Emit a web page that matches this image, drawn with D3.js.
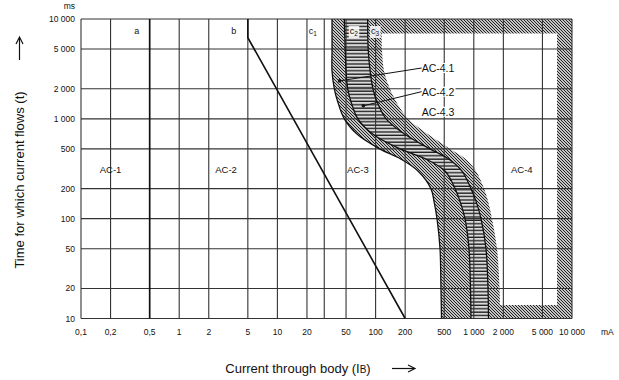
<!DOCTYPE html>
<html><head><meta charset="utf-8">
<script src="https://cdn.jsdelivr.net/npm/d3@7"></script>
<style>body{margin:0;background:#fff} text{font-family:"Liberation Sans",Arial,sans-serif;fill:#111}</style>
</head><body><svg id="c" width="619" height="380"></svg>
<script>
// ---- data ----
const xTicks = [0.1, 0.2, 0.5, 1, 2, 5, 10, 20, 50, 100, 200, 500, 1000, 2000, 5000, 10000];
const xTickLabels = ["0,1", "0,2", "0,5", "1", "2", "5", "10", "20", "50", "100", "200", "500", "1 000", "2 000", "5 000", "10 000"];
const xGridExtra = [30];
const yTicks = [10, 20, 50, 100, 200, 500, 1000, 2000, 5000, 10000];
const yTickLabels = ["10", "20", "50", "100", "200", "500", "1 000", "2 000", "5 000", "10 000"];
// curve times (ms) and currents (mA) of boundaries c1, c2, c3 and outer edge of AC-4.3 band
const curveTimes = [10000, 5000, 3000, 2000, 1500, 1000, 700, 500, 400, 300, 200, 150, 100, 50, 20, 10];
const c1mA = [36, 36, 36, 38, 41, 48, 65, 110, 177, 270, 366, 393, 422, 453, 463, 469];
const c2mA = [48, 49, 50, 52, 56, 66, 94, 177, 318, 509, 644, 723, 813, 893, 925, 936];
const c3mA = [83, 84, 88, 94, 103, 128, 199, 358, 546, 758, 936, 1053, 1184, 1331, 1395, 1412];
const c4mA = [115, 116, 122, 140, 161, 214, 342, 573, 813, 1053, 1270, 1395, 1531, 1722, 1828, 1849];
const lineA = [[0.5, 10], [0.5, 10000]];
const lineB = [[5, 10000], [5, 6500], [200, 10]];
const curveLabels = [["a", 0.37], ["b", 3.6], ["c", 23, "1"], ["c", 60, "2"], ["c", 99, "3"]];
const zoneNames = ["AC-1", "AC-2", "AC-3", "AC-4"];
const zoneCurrents = [0.2, 3, 66, 3080];
const zoneTime = 310;
const subNames = ["AC-4.1", "AC-4.2", "AC-4.3"];
const subTimes = [3230, 1872, 1178];
const subCurrent = 432;
const dots = [[43, 2400], [75, 1350]];

// ---- layout ----
const svg = d3.select("#c");
const x = d3.scaleLog().domain([0.1, 10000]).range([81, 572]);
const y = d3.scaleLog().domain([10, 10000]).range([318.5, 19]);
const X0 = 81, X1 = 572, Y0 = 19, Y1 = 318.5;

const defs = svg.append("defs");
const pd = defs.append("pattern").attr("id", "diag").attr("width", 3).attr("height", 3).attr("patternUnits", "userSpaceOnUse");
pd.append("rect").attr("width", 3).attr("height", 3).attr("fill", "#c4c4c4");
pd.append("path").attr("d", "M-1,-1L4,4M-1,2L1,4M2,-1L4,1").attr("stroke", "#222").attr("stroke-width", 1.0);
const ph = defs.append("pattern").attr("id", "horiz").attr("width", 4).attr("height", 3.4).attr("patternUnits", "userSpaceOnUse");
ph.append("rect").attr("width", 4).attr("height", 3.4).attr("fill", "#dadada");
ph.append("rect").attr("y", 2.1).attr("width", 4).attr("height", 1.3).attr("fill", "#1a1a1a");
defs.append("clipPath").attr("id", "plot").append("rect").attr("x", X0).attr("y", Y0).attr("width", X1 - X0).attr("height", Y1 - Y0);
defs.append("clipPath").attr("id", "inner").append("rect").attr("x", X0).attr("y", 33.5).attr("width", 557 - X0).attr("height", 305 - 33.5);

const mk = arr => curveTimes.map((t, i) => [x(arr[i]), y(t)]);
const P1 = mk(c1mA), P2 = mk(c2mA), P3 = mk(c3mA), P4 = mk(c4mA);
const lineGen = d3.line().curve(d3.curveCatmullRom.alpha(0.5));
const segPath = pts => lineGen(pts).slice(1);

const g = svg.append("g").attr("clip-path", "url(#plot)");
g.append("path").attr("d", lineGen(P1) + "L" + segPath(P2.slice().reverse()) + "Z").attr("fill", "url(#diag)");
g.append("path").attr("d", lineGen(P2) + "L" + segPath(P3.slice().reverse()) + "Z").attr("fill", "url(#horiz)");
g.append("path").attr("d", lineGen(P3) + `L${X1},${Y1}L${X1},${Y0}Z`).attr("fill", "url(#diag)");
g.append("path").attr("clip-path", "url(#inner)")
  .attr("d", lineGen(P4) + `L${X1},${Y1}L${X1},${Y0}Z`).attr("fill", "#fff");

// grid
const grid = svg.append("g").attr("stroke", "#333").attr("stroke-width", 1.1);
xTicks.concat(xGridExtra).forEach(v => grid.append("line").attr("x1", x(v)).attr("x2", x(v)).attr("y1", Y0).attr("y2", Y1));
yTicks.forEach(v => grid.append("line").attr("x1", X0).attr("x2", X1).attr("y1", y(v)).attr("y2", y(v)));

// boundary lines c1, c2, c3
[P1, P2, P3].forEach(p => svg.append("path").attr("d", lineGen(p)).attr("fill", "none").attr("stroke", "#111").attr("stroke-width", 1.3));

// lines a and b
const lin = d3.line().x(d => x(d[0])).y(d => y(d[1]));
svg.append("path").attr("d", lin(lineA)).attr("stroke", "#111").attr("stroke-width", 1.6).attr("fill", "none");
svg.append("path").attr("d", lin(lineB)).attr("stroke", "#111").attr("stroke-width", 1.6).attr("fill", "none");

// curve labels
curveLabels.forEach(([s, v, sub]) => {
  const t = svg.append("text").attr("x", x(v)).attr("y", 34).attr("text-anchor", "middle").attr("font-size", 9).text(s);
  if (sub) t.append("tspan").attr("font-size", 6.5).attr("dy", 2).text(sub);
});
svg.selectAll("text").filter(function(){return this.textContent==="c2"||this.textContent==="c3";}).each(function(){
  const b = this.getBBox();
  svg.insert("rect", () => this).attr("x", b.x - 1).attr("y", b.y).attr("width", b.width + 2).attr("height", b.height + 1).attr("fill", "#fff").attr("opacity", 0.85);
});

// zone labels
zoneNames.forEach((n, i) => svg.append("text").attr("x", x(zoneCurrents[i])).attr("y", y(zoneTime) + 3.5)
  .attr("text-anchor", "middle").attr("font-size", 9.5).text(n));

// AC-4.x labels with white bg
const subT = subNames.map((n, i) => {
  const t = svg.append("text").attr("x", x(subCurrent)).attr("y", y(subTimes[i]) + 4).attr("text-anchor", "middle").attr("font-size", 10.5).text(n);
  const b = t.node().getBBox();
  svg.insert("rect", () => t.node()).attr("x", b.x - 1).attr("y", b.y + 1).attr("width", b.width + 2).attr("height", b.height - 2).attr("fill", "#fff");
  return b;
});
dots.forEach((d, i) => {
  const b = subT[i];
  svg.append("line").attr("x1", b.x).attr("y1", b.y + b.height / 2).attr("x2", x(d[0])).attr("y2", y(d[1])).attr("stroke", "#111").attr("stroke-width", 1);
  svg.append("circle").attr("cx", x(d[0])).attr("cy", y(d[1])).attr("r", 1.8).attr("fill", "#111");
});

// tick labels
xTicks.forEach((v, i) => svg.append("text").attr("x", x(v)).attr("y", 335).attr("text-anchor", "middle").attr("font-size", 8.5).text(xTickLabels[i]));
svg.append("text").attr("x", 601).attr("y", 335).attr("font-size", 8.5).text("mA");
yTicks.forEach((v, i) => svg.append("text").attr("x", 75).attr("y", y(v) + 3).attr("text-anchor", "end").attr("font-size", 8.5).text(yTickLabels[i]));
svg.append("text").attr("x", 75).attr("y", 9).attr("text-anchor", "end").attr("font-size", 8.5).text("ms");

// axis titles
const xt = svg.append("text").attr("x", 298).attr("y", 373).attr("text-anchor", "middle").attr("font-size", 13).text("Current through body (I");
xt.append("tspan").attr("font-size", 10).text("B");
xt.append("tspan").text(")");
svg.append("path").attr("d", "M392,368.5H414").attr("stroke", "#111").attr("stroke-width", 1.2);
svg.append("path").attr("d", "M408,365L415,368.5L408,372").attr("stroke", "#111").attr("stroke-width", 1.2).attr("fill", "none");
svg.append("text").attr("transform", "translate(24,180) rotate(-90)").attr("text-anchor", "middle").attr("font-size", 13).text("Time for which current flows (t)");
svg.append("path").attr("d", "M19.5,60V38").attr("stroke", "#111").attr("stroke-width", 1.2);
svg.append("path").attr("d", "M16,44L19.5,37L23,44").attr("stroke", "#111").attr("stroke-width", 1.2).attr("fill", "none");
</script></body></html>
